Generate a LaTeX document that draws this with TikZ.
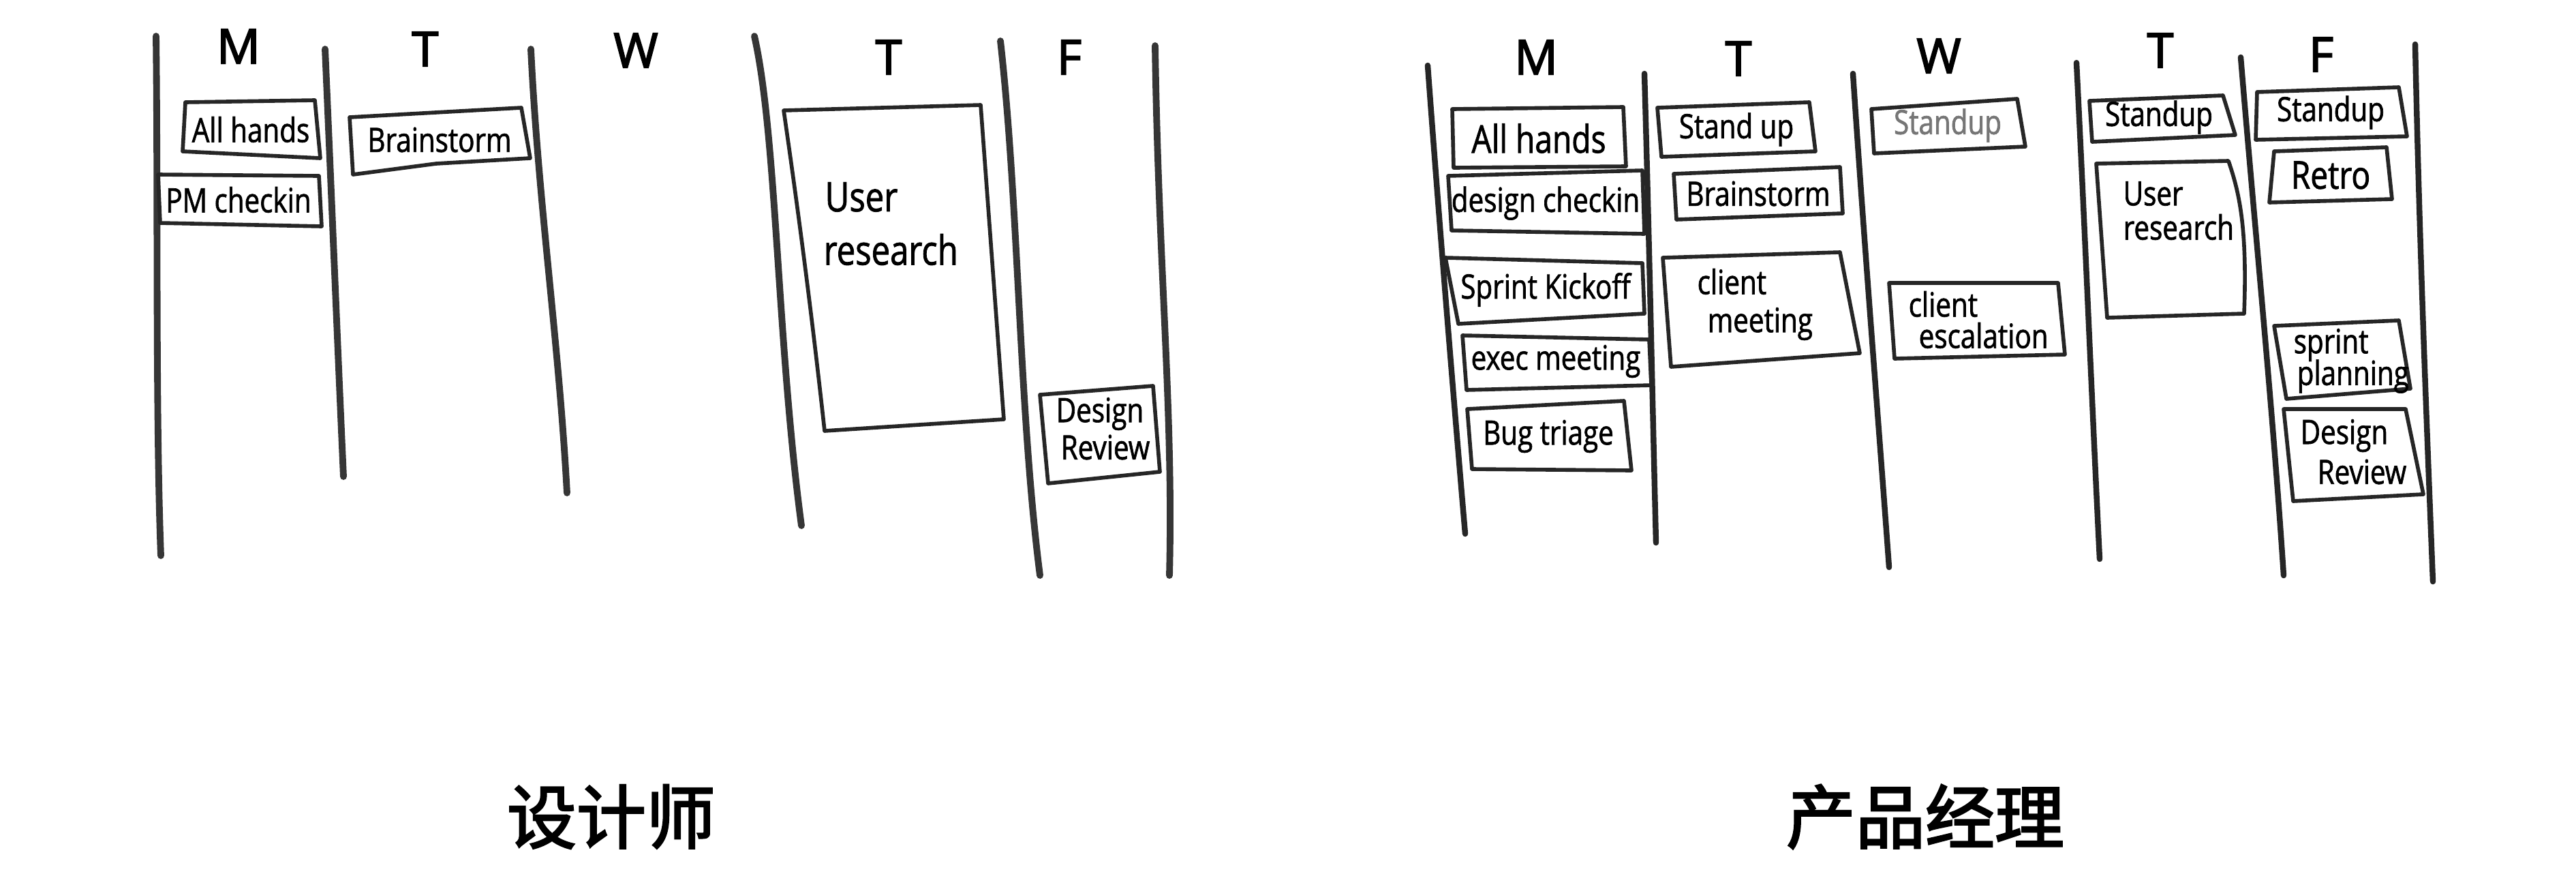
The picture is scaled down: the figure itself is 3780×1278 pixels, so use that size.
\documentclass[tikz,border=0pt]{standalone}
\usepackage{fontspec}
\newfontfamily\hand{Open Sans}[FakeStretch=0.82, FakeBold=1.4]
\newfontfamily\handday{Open Sans}[FakeBold=2.6]
\newfontfamily\cjk{Noto Sans CJK SC}[AutoFakeBold=2.5]
\definecolor{ink}{HTML}{262626}
\definecolor{lineinkL}{HTML}{363636}
\definecolor{greytxt}{HTML}{767676}
\tikzset{
  colline/.style={line width=2.4pt, draw=ink, line cap=round},
  collineL/.style={line width=2.8pt, draw=lineinkL, line cap=round},
  boxline/.style={line width=1.6pt, draw=ink, line join=round},
  txt/.style={font=\hand\fontsize{14}{15}\selectfont, text=black, inner sep=0pt, align=center},
  bigtxt/.style={font=\hand\fontsize{17}{18}\selectfont, text=black, inner sep=0pt},
  daylbl/.style={font=\handday\fontsize{20}{22}\selectfont, text=black, inner sep=0pt},
  cjklbl/.style={font=\cjk\bfseries\fontsize{29}{32}\selectfont, text=black, inner sep=0pt}
}
\begin{document}
\begin{tikzpicture}[x=0.01cm, y=-0.01cm]
\useasboundingbox (0,0) rectangle (3780,1278);
\fill[white] (0,0) rectangle (3780,1278);

% ================= LEFT: designer =================
% day labels
\node[daylbl] (lm) at (350,68) {M};
\node[daylbl] (lt) at (624,72) {T};
\node[daylbl] (lw) at (933,74) {W};
\node[daylbl] (lt2) at (1304,84) {T};
\node[daylbl] (lf) at (1569,84) {F};

% column lines
\draw[collineL] (229,53) .. controls (232,300) and (228,600) .. (236,815);
\draw[collineL] (477,72) .. controls (487,300) and (495,500) .. (504,699);
\draw[collineL] (779,72) .. controls (790,300) and (820,500) .. (832,723);
\draw[collineL] (1107,53) .. controls (1140,200) and (1140,500) .. (1176,771);
\draw[collineL] (1468,60) .. controls (1495,300) and (1495,600) .. (1526,844);
\draw[collineL] (1695,67) .. controls (1700,400) and (1722,600) .. (1716,844);

% boxes
\draw[boxline] (272,150) -- (462,147) -- (470,232) -- (268,222) -- cycle;
\node[txt] (lah) at (368,190) {All hands};
\draw[boxline] (232,256) -- (468,258) -- (472,332) -- (235,327) -- cycle;
\node[txt] (lpm) at (350,293) {PM checkin};
\draw[boxline] (513,172) -- (765,158) -- (778,232) -- (640,240) -- (518,256) -- cycle;
\node[txt] (lbs) at (645,205) {Brainstorm};
\draw[boxline] (1150,162) -- (1439,154) -- (1473,615) -- (1210,632) .. controls (1190,450) and (1170,300) .. cycle;
\node[bigtxt, anchor=west] (lu1) at (1210,289) {User};
\node[bigtxt, anchor=west] (lu2) at (1208,366) {research};
\draw[boxline] (1526,579) -- (1692,566) -- (1702,692) -- (1538,709) -- cycle;
\node[txt] (ld1) at (1614,607) {Design};
\node[txt] (ld2) at (1622,656) {Review};

\node[cjklbl] (designer) at (897,1198) {设计师};

% ================= RIGHT: product manager =================
\node[daylbl] (rm) at (2254,84) {M};
\node[daylbl] (rt) at (2551,86) {T};
\node[daylbl] (rw) at (2845,82) {W};
\node[daylbl] (rt2) at (3170,74) {T};
\node[daylbl] (rf) at (3406,80) {F};

\draw[colline] (2095,96) .. controls (2110,300) and (2130,550) .. (2150,783);
\draw[colline] (2413,108) .. controls (2420,350) and (2425,600) .. (2430,796);
\draw[colline] (2719,108) .. controls (2735,350) and (2755,600) .. (2772,832);
\draw[colline] (3047,92) .. controls (3060,350) and (3070,600) .. (3081,820);
\draw[colline] (3288,84) .. controls (3310,350) and (3335,600) .. (3351,844);
\draw[colline] (3544,65) .. controls (3550,350) and (3560,600) .. (3570,853);

% Monday
\draw[boxline] (2131,160) -- (2382,157) -- (2386,244) -- (2133,246) -- cycle;
\node[txt, font=\hand\fontsize{16}{17}\selectfont] (rah) at (2258,203) {All hands};
\draw[boxline] (2125,258) -- (2410,250) -- (2413,343) -- (2130,338) -- cycle;
\node[txt] (rdc) at (2268,298) {design checkin};
\draw[boxline] (2121,378) -- (2410,386) -- (2413,460) -- (2140,475) -- cycle;
\node[txt] (rsk) at (2268,425) {Sprint Kickoff};
\draw[boxline] (2146,492) -- (2420,498) -- (2423,565) -- (2152,572) -- cycle;
\node[txt] (rem) at (2283,530) {exec meeting};
\draw[boxline] (2153,600) -- (2383,588) -- (2394,690) -- (2160,688) -- cycle;
\node[txt] (rbt) at (2272,640) {Bug triage};

% Tuesday
\draw[boxline] (2432,158) -- (2655,150) -- (2664,222) -- (2438,230) -- cycle;
\node[txt] (rsu1) at (2548,190) {Stand up};
\draw[boxline] (2456,255) -- (2700,245) -- (2704,313) -- (2460,322) -- cycle;
\node[txt] (rbs) at (2580,284) {Brainstorm};
\draw[boxline] (2440,378) -- (2700,370) -- (2729,518) -- (2452,538) -- cycle;
\node[txt, anchor=west] (rcm1) at (2490,413) {client};
\node[txt, anchor=west] (rcm2) at (2505,475) {meeting};

% Wednesday
\draw[boxline] (2746,160) -- (2960,145) -- (2972,215) -- (2750,225) -- cycle;
\node[txt, text=greytxt] (rsu2) at (2858,184) {Standup};
\draw[boxline] (2772,415) -- (3020,415) -- (3030,520) -- (2780,526) -- cycle;
\node[txt, anchor=west] (rce1) at (2800,446) {client};
\node[txt, anchor=west] (rce2) at (2815,492) {escalation};

% Thursday
\draw[boxline] (3066,148) -- (3262,140) -- (3280,198) -- (3070,208) -- cycle;
\node[txt] (rsu3) at (3168,172) {Standup};
\draw[boxline] (3076,240) -- (3270,236) .. controls (3285,280) and (3298,330) .. (3293,460) -- (3092,466) -- cycle;
\node[txt, anchor=west] (ru1) at (3115,284) {User};
\node[txt, anchor=west] (ru2) at (3115,333) {research};

% Friday
\draw[boxline] (3312,135) -- (3520,128) -- (3532,200) -- (3310,205) -- cycle;
\node[txt] (rsu4) at (3420,165) {Standup};
\draw[boxline] (3337,222) -- (3502,216) -- (3510,292) -- (3330,297) -- cycle;
\node[txt, font=\hand\fontsize{16}{17}\selectfont] (rrt) at (3420,257) {Retro};
\draw[boxline] (3337,478) -- (3520,470) -- (3537,570) -- (3355,585) -- cycle;
\node[txt, anchor=west] (rsp1) at (3365,506) {sprint};
\node[txt, anchor=west] (rsp2) at (3370,552) {planning};
\draw[boxline] (3351,600) -- (3530,600) -- (3556,725) -- (3365,735) -- cycle;
\node[txt, anchor=west] (rdr1) at (3375,639) {Design};
\node[txt, anchor=west] (rdr2) at (3400,692) {Review};

\node[cjklbl] (pm) at (2825,1198) {产品经理};
\end{tikzpicture}
\end{document}
